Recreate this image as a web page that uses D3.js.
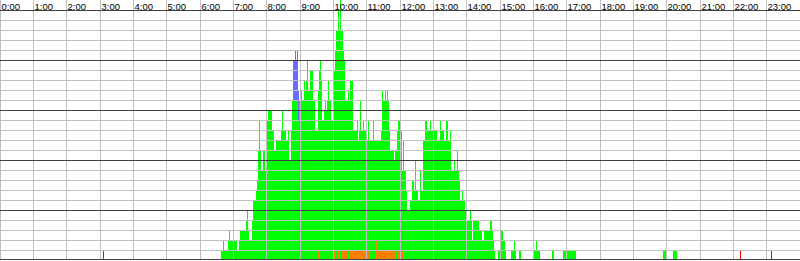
<!DOCTYPE html>
<html><head><meta charset="utf-8">
<script src="https://cdn.jsdelivr.net/npm/d3@7"></script>
<style>html,body{margin:0;padding:0;background:#fff;overflow:hidden} svg{display:block}</style>
</head><body><svg id="c" width="800" height="261"></svg>
<script>
// ---- data (minutes since midnight; each step holds its count until the next step) ----
const hourLabels = d3.range(24).map(h => h + ":00");
const slotMinutes = 1.8;          // 24h split into 800 time slots
const orangeSteps = [[480.6,1],[482.4,0],[534.6,1],[536.4,0],[572.4,1],[574.2,0],[601.2,1],[604.8,0],[606.6,1],[612,0],[613.8,1],[621,0],[622.8,1],[626.4,0],[628.2,1],[635.4,0],[637.2,1],[646.2,2],[648,1],[657,0],[658.8,1],[666,0],[675,2],[678.6,0],[680.4,1],[711,0],[714.6,1],[718.2,0],[721.8,1],[727.2,0],[793.8,1],[795.6,0]];
const greenSteps = [[397.8,1],[401.4,2],[403.2,1],[410.4,2],[412.2,3],[414,2],[426.6,1],[430.2,2],[432,3],[442.8,4],[444.6,5],[446.4,3],[448.2,2],[453.6,4],[455.4,6],[460.8,7],[462.6,8],[464.4,11],[466.2,14],[468,11],[469.8,9],[473.4,11],[477,9],[480.6,13],[482.4,15],[489.6,13],[493.2,11],[496.8,12],[505.8,13],[507.6,15],[509.4,13],[514.8,12],[518.4,13],[520.2,10],[523.8,13],[525.6,16],[534.6,15],[536.4,14],[538.2,16],[541.8,17],[543.6,16],[547.2,18],[549,17],[550.8,18],[552.6,20],[554.4,17],[558,19],[563.4,16],[567,13],[572.4,16],[574.2,19],[576,20],[577.8,18],[579.6,14],[583.2,15],[585,16],[586.8,15],[588.6,16],[590.4,18],[592.2,16],[595.8,14],[599.4,16],[601.2,18],[603,20],[604.8,23],[606.6,22],[608.4,24],[610.2,22],[612,26],[613.8,22],[617.4,20],[619.2,19],[621,16],[622.8,15],[626.4,17],[628.2,15],[630,17],[635.4,13],[637.2,12],[642.6,13],[644.4,11],[646.2,11],[648,15],[649.8,12],[653.4,13],[655.2,12],[657,13],[658.8,11],[662.4,13],[664.2,11],[666,12],[671.4,14],[673.2,12],[675,10],[678.6,12],[680.4,11],[685.8,12],[687.6,16],[689.4,15],[693,16],[694.8,15],[696.6,16],[698.4,15],[700.2,12],[702,10],[709.2,9],[711,11],[714.6,12],[716.4,13],[718.2,14],[721.8,12],[723.6,8],[725.4,11],[727.2,9],[730.8,7],[732.6,5],[738,6],[741.6,8],[745.2,7],[747,10],[748.8,7],[752.4,6],[756,9],[757.8,7],[761.4,12],[765,14],[768.6,13],[774,14],[775.8,13],[779.4,10],[781.2,13],[786.6,12],[792,14],[793.8,12],[795.6,13],[799.2,12],[802.8,14],[806.4,12],[810,13],[811.8,9],[817.2,10],[819,9],[822.6,11],[824.4,9],[826.2,8],[828,6],[831.6,7],[833.4,6],[837,5],[840.6,4],[846,5],[847.8,4],[849.6,2],[851.4,4],[862.2,3],[867.6,2],[871.2,3],[882,4],[885.6,3],[887.4,2],[889.2,1],[891,0],[896.4,1],[900,0],[901.8,3],[905.4,2],[909,1],[910.8,0],[919.8,1],[925.2,2],[927,1],[928.8,0],[934.2,1],[937.8,0],[961.2,1],[964.8,2],[966.6,1],[972,0],[993.6,1],[997.2,0],[1013.4,1],[1036.8,0],[1193.4,1],[1198.8,0],[1211.4,1],[1218.6,0]];
const blueSteps = [[527.4,4],[531,5],[532.8,4],[534.6,5],[536.4,3],[538.2,0]];
const redSteps = [[185.4,1],[187.2,0],[1332,1],[1333.8,0],[1387.8,1],[1389.6,0]];

const seriesKeys = ["orange","green","blue","red"];
const seriesColors = {orange:"#ff8000", green:"#00ff00", blue:"#6b6bff", red:"#ff0000"};
const stepsByKey = {orange:orangeSteps, green:greenSteps, blue:blueSteps, red:redSteps};

// ---- build slots ----
const nSlots = Math.round(1440 / slotMinutes);
function expand(steps){
  const out = new Array(nSlots).fill(0);
  let j = -1;
  for (let i = 0; i < nSlots; i++){
    const t = (i + 0.5) * slotMinutes;
    while (j + 1 < steps.length && steps[j+1][0] <= t) j++;
    out[i] = j >= 0 ? steps[j][1] : 0;
  }
  return out;
}
const expanded = {};
seriesKeys.forEach(k => expanded[k] = expand(stepsByKey[k]));
const slots = d3.range(nSlots).map(i => {
  const o = {t: i * slotMinutes};
  seriesKeys.forEach(k => o[k] = expanded[k][i]);
  return o;
});
const stacked = d3.stack().keys(seriesKeys)(slots);

// ---- scales ----
const W = 800, H = 261;
const x = d3.scaleLinear().domain([0, 1440]).range([0, W]);
const y = d3.scaleLinear().domain([0, 25]).range([260, 10]);

const svg = d3.select("#c");
svg.append("defs").append("clipPath").attr("id","clip")
  .append("rect").attr("x",0).attr("y",0).attr("width",W).attr("height",259);

// bars
const barG = svg.append("g").attr("clip-path","url(#clip)").attr("shape-rendering","crispEdges");
stacked.forEach(layer => {
  barG.append("g").attr("fill", seriesColors[layer.key])
    .selectAll("rect")
    .data(layer.filter(d => d[1] > d[0]))
    .join("rect")
    .attr("x", d => x(d.data.t))
    .attr("width", x(slotMinutes) - x(0))
    .attr("y", d => y(d[1]))
    .attr("height", d => y(d[0]) - y(d[1]));
});

// grid (drawn over bars)
const grid = svg.append("g").attr("fill","none");
const hours = d3.range(24);
grid.selectAll("line.v").data(hours).join("line")
  .attr("x1", h => Math.floor(x(h*60)) + 0.5).attr("x2", h => Math.floor(x(h*60)) + 0.5)
  .attr("y1", 0).attr("y2", 260)
  .attr("stroke", "#c0c0c0").attr("stroke-width", 1);
const minor = d3.range(1, 25).filter(v => v % 5 !== 0);
grid.selectAll("line.h").data(minor).join("line")
  .attr("x1", 0).attr("x2", W)
  .attr("y1", v => y(v) + 0.5).attr("y2", v => y(v) + 0.5)
  .attr("stroke", "#c0c0c0").attr("stroke-width", 1);
const major = [5, 10, 15, 20, 25];
grid.selectAll("line.m").data(major).join("line")
  .attr("x1", 0).attr("x2", W)
  .attr("y1", v => y(v) + 0.5).attr("y2", v => y(v) + 0.5)
  .attr("stroke", "#404040").attr("stroke-width", 1);
grid.append("line").attr("x1",0).attr("x2",W).attr("y1",259.5).attr("y2",259.5)
  .attr("stroke","#404040").attr("stroke-width",1);

// hour labels
svg.append("g").selectAll("text").data(hours).join("text")
  .attr("x", h => Math.floor(x(h*60)) + 1.5)
  .attr("y", 9.5)
  .attr("font-family", "'Liberation Sans', Arial, sans-serif")
  .attr("font-size", "9.5px")
  .attr("fill", "#000")
  .text(h => hourLabels[h]);
</script>
</body></html>
